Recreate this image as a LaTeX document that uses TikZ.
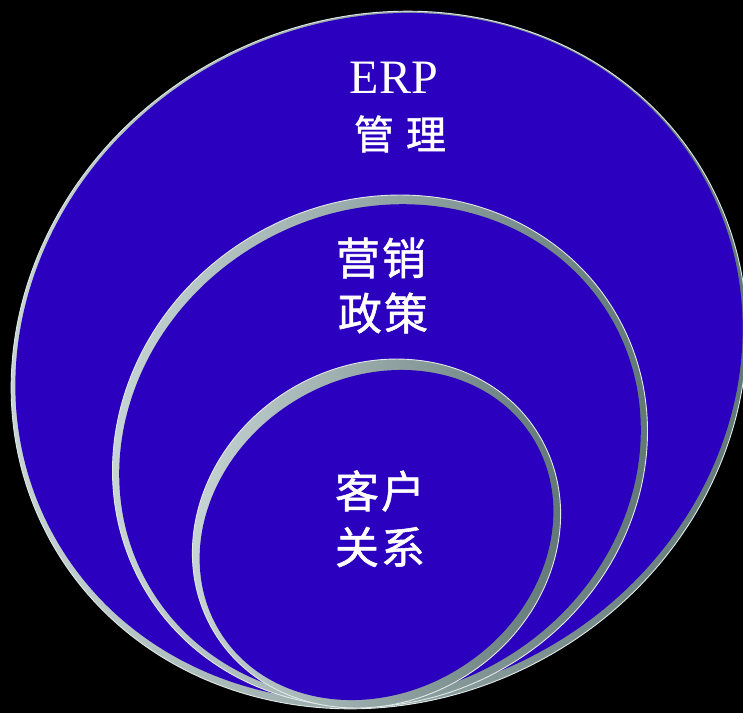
\documentclass[tikz,border=0pt]{standalone}
\usepackage{fontspec}
\setmainfont{Liberation Serif}
\newfontfamily\cjk{Noto Sans CJK SC}[FakeBold=1.2]
\definecolor{disc}{RGB}{43,0,190}
\definecolor{rimlight}{RGB}{205,218,218}
\definecolor{rimmid}{RGB}{140,160,160}
\definecolor{rimdark}{RGB}{90,114,112}
\definecolor{rimedge}{RGB}{225,232,232}
% #1 cx, #2 cy, #3 a, #4 b, #5 angle, #6 da, #7 db, #8 shift
\newcommand\ringdisc[8]{%
  \shade[rotate around={#5:(#1,#2)}, left color=rimlight, middle color=rimmid, right color=rimdark]
    (#1,#2) ellipse [x radius=#3, y radius=#4];
  \draw[rimedge, line width=0.9pt, rotate around={#5:(#1,#2)}]
    (#1,#2) ellipse [x radius=#3, y radius=#4];
  \fill[disc, rotate around={#5:(#1,{#2+#8})}]
    (#1,{#2+#8}) ellipse [x radius={#3-#6}, y radius={#4-#7}];
}
\begin{document}
\begin{tikzpicture}[x=1pt,y=-1pt,
  txt/.style={text=white, inner sep=0pt},
  cjkbig/.style={txt, font=\cjk\fontsize{40}{40}\selectfont},
  cjkmid/.style={txt, font=\cjk\fontsize{44}{44}\selectfont}]
\fill[black] (0,0) rectangle (743,713);
\useasboundingbox (0,0) rectangle (743,713);
\begin{scope}
\clip (0,0) rectangle (743,713);
\ringdisc{379}{360}{375}{341}{28}{4}{5}{-3}
\ringdisc{380}{451}{273}{250}{30}{6}{9}{1}
\ringdisc{376.5}{533.5}{190}{168}{32}{6}{11}{1.5}
\end{scope}
\node[txt, font=\fontsize{48}{48}\selectfont] (erp) at (394,78) {ERP};
\node[cjkbig] (guanli) at (400,134) {管\hspace{12pt}理};
\node[cjkmid] (yingxiao) at (381,258) {营\hspace{2pt}销};
\node[cjkmid] (zhengce) at (383,313) {政\hspace{2pt}策};
\node[cjkmid] (kehu) at (380,491) {客\hspace{2pt}户};
\node[cjkmid] (guanxi) at (380,547) {关\hspace{2pt}系};
\end{tikzpicture}
\end{document}
